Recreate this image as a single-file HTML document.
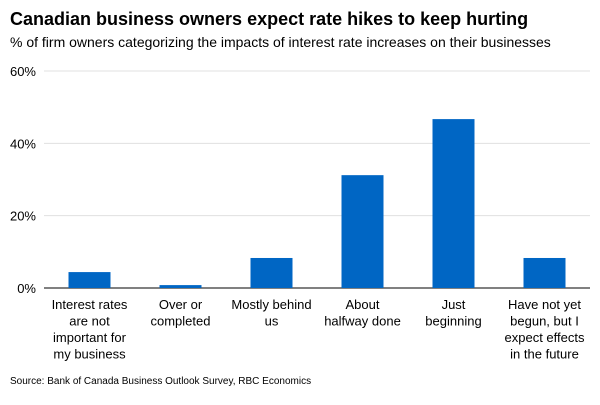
<!DOCTYPE html>
<html><head><meta charset="utf-8"><style>
body{margin:0;background:#fff;font-family:"Liberation Sans",Arial,sans-serif;}
svg text{font-family:"Liberation Sans",Arial,sans-serif;}
</style></head><body>
<svg width="600" height="400" viewBox="0 0 600 400">
<text x="10" y="25" font-size="18" font-weight="bold" fill="#000">Canadian business owners expect rate hikes to keep hurting</text>
<text x="10" y="47" font-size="14" fill="#000">% of firm owners categorizing the impacts of interest rate increases on their businesses</text>
<g id="grid"></g><g id="bars"></g><g id="xlabels"></g>
<text x="10" y="384" font-size="10" fill="#000">Source: Bank of Canada Business Outlook Survey, RBC Economics</text>
</svg>
<script>
const categories=[["Interest rates","are not","important for","my business"],["Over or","completed"],["Mostly behind","us"],["About","halfway done"],["Just","beginning"],["Have not yet","begun, but I","expect effects","in the future"]];
const values=[4.4,0.8,8.3,31.2,46.7,8.3];
const ticks=[0,20,40,60];
const ns="http://www.w3.org/2000/svg";
const x0=44,x1=590,yBase=288,yTop=71,vMax=60;
const y=v=>yBase-(v/vMax)*(yBase-yTop);
const band=(x1-x0)/categories.length;
const xc=i=>x0+band*(i+0.5);
function mk(t,a,p){const e=document.createElementNS(ns,t);for(const k in a)e.setAttribute(k,a[k]);p.appendChild(e);return e;}
const g=document.getElementById('grid');
ticks.forEach(t=>{
 const l=mk('line',{x1:x0,x2:x1,y1:y(t),y2:y(t),stroke:t===0?'#000':'#e0e0e0','stroke-width':1},g);
 
 
 const tx=mk('text',{x:36,y:y(t)+5,'font-size':13,'text-anchor':'end',fill:'#000'},g);
 tx.textContent=t+'%';
 
 
});
const b=document.getElementById('bars');
values.forEach((v,i)=>{
 const r=mk('rect',{x:xc(i)-21,y:y(v),width:42,height:yBase-y(v),fill:'#0066c4'},b);
 
 
});
const xl=document.getElementById('xlabels');
categories.forEach((c,i)=>{
 const t=mk('text',{x:xc(i),y:309,'font-size':13,'text-anchor':'middle',fill:'#000'},xl);
 
 
 c.forEach((s,j)=>{const ts=mk('tspan',{x:xc(i),dy:j?16.5:0},t);ts.textContent=s;});
});
</script>
</body></html>
